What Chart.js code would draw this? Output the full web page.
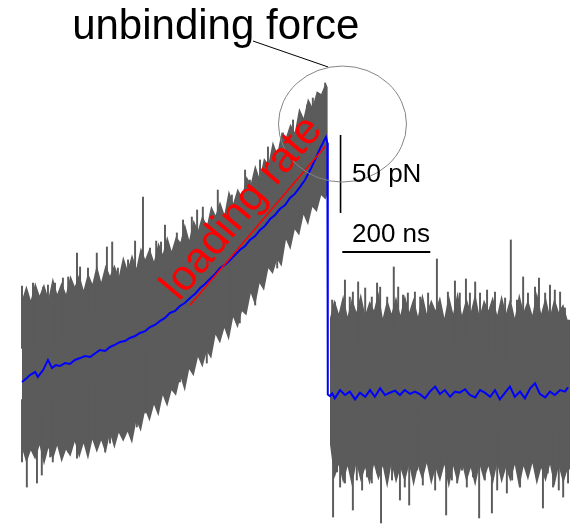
<!DOCTYPE html>
<html>
<head>
<meta charset="utf-8">
<script src="https://cdn.jsdelivr.net/npm/chart.js@4.4.1/dist/chart.umd.min.js"></script>
<style>
  html, body { margin: 0; padding: 0; background: #fff; }
  #wrap { width: 570px; height: 525px; }
</style>
</head>
<body>
<div id="wrap"><canvas id="trace" width="570" height="525"></canvas></div>
<script>
// force trace of one unbinding event, time in ns, force in pN
// raw signal: upper / lower envelope of the noisy trace, before and after rupture
const envTimeLeftNs = [0, 10, 20, 30, 40, 50, 60, 70, 80, 90, 100, 110, 120, 130, 140, 150, 160, 170, 180, 190,
  200, 210, 220, 230, 240, 250, 260, 270, 280, 290, 300, 310, 320, 330, 340, 350, 360, 370, 380, 390,
  400, 410, 420, 430, 440, 450, 460, 470, 480, 490, 500, 510, 520, 530, 540, 550, 560, 570, 580, 590,
  600, 610, 620, 630, 640, 650, 660, 670, 680, 690, 695];
const envTopLeftPn = [59.4, 68.9, 59.4, 71.0, 62.5, 70.0, 60.5, 74.0, 63.5, 71.0, 63.5, 75.4, 68.3, 76.2, 66.1, 77.0, 70.0, 82.1, 71.1, 82.2,
  75.2, 82.3, 74.5, 87.6, 78.8, 88.9, 80.2, 93.5, 85.7, 93.0, 84.3, 96.7, 89.1, 100.6, 91.0, 100.4, 96.6, 108.8, 98.0, 111.1,
  104.3, 114.2, 107.1, 120.1, 114.0, 122.9, 114.5, 130.0, 121.6, 131.1, 125.7, 138.9, 134.1, 146.3, 137.5, 150.7, 146.6, 161.4, 153.3, 167.1,
  164.0, 172.6, 167.2, 182.7, 176.3, 188.9, 183.2, 193.4, 191.7, 198.7, 196.0];
const envBottomLeftPn = [-35.3, -45.1, -36.9, -42.7, -33.5, -46.4, -35.2, -43.0, -33.8, -44.6, -36.4, -40.9, -31.3, -41.8, -32.3, -42.8, -30.0, -38.3, -30.5, -38.8,
  -26.0, -35.7, -25.4, -31.2, -24.9, -32.6, -17.8, -24.8, -11.1, -18.3, -7.5, -14.9, -1.4, -8.8, 1.7, -1.7, 10.6, 1.0, 15.3, 10.7,
  23.0, 16.3, 26.7, 22.0, 37.4, 31.7, 41.6, 33.6, 48.5, 41.5, 52.4, 49.6, 63.9, 56.1, 70.4, 65.6, 80.0, 76.3, 85.7, 81.0,
  98.4, 91.6, 104.8, 101.0, 114.3, 107.5, 119.3, 116.0, 126.8, 124.1, 128.0];

const envTimeRightNs = [700, 710, 720, 730, 740, 750, 760, 770, 780, 790, 800, 810, 820, 830, 840, 850, 860, 870, 880, 890,
  900, 910, 920, 930, 940, 950, 960, 970, 980, 990, 1000, 1010, 1020, 1030, 1040, 1050, 1060, 1070, 1080, 1090,
  1100, 1110, 1120, 1130, 1140, 1150, 1160, 1170, 1180, 1190, 1200, 1210, 1220, 1230, 1240, 1246];
const envTopRightPn = [48, 60, 51, 63, 49, 61, 52, 64, 50, 59, 53, 65, 48, 60, 51, 62, 50, 63, 52, 61,
  49, 64, 51, 60, 53, 62, 48, 63, 51, 65, 50, 61, 52, 64, 49, 60, 53, 62, 50, 63,
  51, 61, 48, 64, 52, 60, 50, 65, 51, 62, 49, 61, 52, 57, 47, 47];
const envBottomRightPn = [-33, -55, -46, -58, -47, -60, -45, -57, -48, -59, -46, -56, -47, -61, -45, -58, -48, -57, -46, -60,
  -47, -56, -45, -59, -48, -57, -46, -61, -47, -58, -45, -57, -48, -60, -46, -56, -47, -59, -45, -58,
  -48, -57, -46, -61, -47, -56, -45, -59, -48, -57, -46, -60, -47, -58, -49, -49];

// single long spikes sticking out of the envelope
const spikeUpTimeNs = [0, 25, 48, 59, 75, 93, 105, 125, 132, 150, 170, 193, 205, 218, 241, 257, 275, 291, 305, 316,
  325, 352, 366, 386, 398, 411, 445, 477, 507, 518, 541, 559, 570, 593, 616, 648, 661, 677, 689,
  705, 711, 734, 745, 752, 764, 780, 795, 807, 814, 830, 845, 855, 866, 877, 893, 905, 923, 943, 968,
  984, 995, 1009, 1018, 1030, 1041, 1057, 1075, 1098, 1111, 1125, 1139, 1150, 1166, 1175, 1189, 1200, 1211, 1223, 1234];
const spikeUpPn = [68.6, 70.5, 67.9, 69.2, 70.5, 73.7, 74.4, 89.7, 80.8, 80.1, 89.7, 93.6, 96.8, 80.1, 85.3, 97.4, 125.6, 92.9, 97.4, 96.8,
  107.7, 102.6, 110.9, 112.8, 117.3, 119.2, 130.1, 126.9, 142.9, 136.5, 149.4, 157.7, 153.8, 166.7, 175.0, 184.6, 189.1, 191.0, 198.7,
  59.6, 58.3, 72.4, 61.5, 64.7, 71.2, 67.3, 61.5, 70.5, 67.9, 61.5, 80.8, 67.9, 62.8, 64.1, 64.7, 61.5, 64.1, 85.9, 64.7,
  71.8, 64.1, 73.1, 64.1, 71.2, 64.1, 66.0, 64.7, 60.9, 98.1, 59.6, 74.4, 64.1, 67.9, 73.7, 64.1, 69.2, 66.0, 64.7, 54.5];

const spikeDownTimeNs = [0, 11, 18, 34, 45, 64, 70, 86, 105, 125, 136, 148, 170, 189, 200, 218, 230, 261, 280, 307,
  320, 359, 377, 420, 432, 473, 495, 530, 580, 614, 632, 661,
  707, 716, 723, 734, 752, 761, 773, 784, 795, 807, 816, 830, 841, 859, 870, 880, 898, 911, 927, 939,
  950, 964, 977, 989, 1000, 1011, 1025, 1039, 1052, 1068, 1080, 1091, 1102, 1114, 1132, 1148, 1173, 1184, 1195, 1207,
  1220, 1230, 1241];
const spikeDownPn = [-44.2, -60.3, -36.5, -57.7, -52.6, -41.0, -44.2, -35.3, -37.8, -41.7, -30.1, -33.3, -34.6, -37.8, -32.1, -23.7, -28.2, -21.8, -12.8, -7.7,
  1.9, 7.1, 19.2, 19.2, 34.0, 46.8, 44.9, 56.4, 80.1, 102.6, 110.9, 120.5,
  -79.5, -50.6, -60.3, -57.7, -75.0, -55.8, -62.2, -53.8, -57.7, -51.3, -83.3, -51.3, -55.8, -68.6, -60.3, -71.8, -49.4, -59.0, -49.4, -62.2,
  -53.8, -78.2, -55.8, -57.7, -49.4, -60.3, -53.8, -80.1, -55.8, -76.9, -62.2, -53.8, -64.1, -55.8, -60.3, -49.4, -49.4, -73.7, -51.3, -60.3,
  -62.2, -66.7, -57.7];

// smoothed signal (blue)
const smoothTimeNs = [0, 11, 18, 30, 36, 48, 59, 68, 77, 86, 98, 109, 120, 132, 143, 155, 161, 177, 189, 200,
  211, 223, 234, 245, 257, 268, 280, 291, 302, 314, 325, 336, 348, 359, 370, 382, 393, 405, 416, 427,
  439, 450, 461, 473, 484, 495, 507, 518, 530, 541, 552, 564, 575, 586, 598, 609, 620, 632, 643, 655,
  666, 677, 686, 691, 694, 695,
  700, 705, 711, 723, 734, 745, 757, 768, 780, 791, 802, 814, 825, 836, 848, 859, 870, 882, 893, 905,
  916, 927, 939, 950, 961, 973, 984, 995, 1007, 1018, 1030, 1041, 1052, 1064, 1075, 1086, 1098, 1109, 1120, 1132,
  1143, 1155, 1166, 1177, 1189, 1200, 1211, 1223, 1234, 1241];
const smoothForcePn = [7.1, 9.6, 11.5, 13.5, 10.3, 14.7, 21.2, 16.0, 17.9, 17.3, 19.2, 18.6, 21.2, 22.4, 23.7, 23.1, 24.4, 27.6, 26.9, 29.5,
  30.8, 32.7, 33.3, 35.3, 36.5, 38.5, 39.7, 42.3, 43.6, 46.2, 48.1, 51.3, 52.6, 55.8, 57.7, 60.9, 63.5, 67.3, 69.9, 73.1,
  76.3, 80.1, 82.1, 85.3, 88.5, 91.7, 94.2, 98.1, 100.6, 104.5, 107.1, 111.5, 114.1, 117.9, 120.5, 125.0, 127.6, 132.1, 136.5, 142.9,
  149.4, 156.4, 161.5, 164.1, 160.3, -1.0,
  -2.0, -0.2, -3.4, 1.9, -1.3, 0.9, -4.1, 0.2, -2.4, 1.9, -2.4, 3.0, -1.3, 0.2, 1.5, -1.3, 1.9, -0.6, 0.9, -0.9,
  -3.4, 0.9, 4.1, -0.6, 1.9, -2.4, 0.9, 0.2, 2.4, -1.3, -2.8, 1.9, 0.2, -2.4, 1.9, -4.1, 0.2, 4.1, -2.4, 0.9,
  -3.4, 3.0, 6.2, -0.6, -2.8, 0.9, -1.3, 1.9, 0.9, 3.6];

// linear fit of the loading ramp (red)
const fitTimeNs = [382, 690];
const fitForcePn = [56.4, 158.3];

// scale bars
const scaleBarForcePn = 50;
const scaleBarTimeNs = 200;

const X_MIN = -50, X_MAX = 1245.5;
const Y_MIN = -84.6, Y_MAX = 251.9;
const GRAY = '#5b5b5b';
const SPIKE_DEPTH = 40; // how far a spike bar reaches back into the band

const pts = (xs, ys) => xs.map((t, i) => ({ x: t, y: ys[i] }));

const traceNotes = {
  id: 'traceNotes',
  afterDatasetsDraw(chart) {
    const { ctx, scales: { x, y } } = chart;
    const px = t => x.getPixelForValue(t);
    const py = f => y.getPixelForValue(f);
    ctx.save();
    ctx.fillStyle = '#000';
    ctx.textBaseline = 'alphabetic';
    ctx.textAlign = 'left';

    ctx.font = '42px "Liberation Sans", Arial, sans-serif';
    ctx.fillText('unbinding force', px(114), py(227));

    // leader line and circle round the peak
    ctx.strokeStyle = '#000';
    ctx.lineWidth = 1;
    ctx.beginPath();
    ctx.moveTo(px(525), py(225.6));
    ctx.lineTo(px(695.5), py(209));
    ctx.stroke();

    ctx.strokeStyle = '#858585';
    ctx.beginPath();
    ctx.ellipse(px(728.4), py(172.4), 64, 58, 0, 0, Math.PI * 2);
    ctx.stroke();

    ctx.font = '26px "Liberation Sans", Arial, sans-serif';
    ctx.fillText(scaleBarForcePn + ' pN', px(750), py(135.3));
    ctx.fillText(scaleBarTimeNs + ' ns', px(750), py(96.8));

    ctx.save();
    ctx.translate(px(357), py(58.3));
    ctx.rotate(-50 * Math.PI / 180);
    ctx.fillStyle = '#ff0000';
    ctx.font = '43px "Liberation Sans", Arial, sans-serif';
    ctx.fillText('loading rate', 0, 0);
    ctx.restore();

    ctx.restore();
  }
};

const lineBase = { type: 'line', pointRadius: 0, tension: 0, borderWidth: 0, fill: false };
const barBase = { type: 'bar', backgroundColor: GRAY, borderWidth: 0, barThickness: 1.3, grouped: false, order: 6 };

new Chart(document.getElementById('trace'), {
  type: 'line',
  data: {
    datasets: [
      { ...lineBase, data: pts(envTimeLeftNs, envTopLeftPn), fill: '+1', backgroundColor: GRAY, order: 7 },
      { ...lineBase, data: pts(envTimeLeftNs, envBottomLeftPn), order: 7 },
      { ...lineBase, data: pts(envTimeRightNs, envTopRightPn), fill: '+1', backgroundColor: GRAY, order: 7 },
      { ...lineBase, data: pts(envTimeRightNs, envBottomRightPn), order: 7 },
      { ...barBase, data: spikeUpTimeNs.map((t, i) => ({ x: t, y: [spikeUpPn[i] - SPIKE_DEPTH, spikeUpPn[i]] })) },
      { ...barBase, data: spikeDownTimeNs.map((t, i) => ({ x: t, y: [spikeDownPn[i], spikeDownPn[i] + SPIKE_DEPTH] })) },
      { ...lineBase, data: pts(smoothTimeNs, smoothForcePn), borderColor: '#0000ff', borderWidth: 2, order: 2 },
      { ...lineBase, data: pts(fitTimeNs, fitForcePn), borderColor: '#ff0000', borderWidth: 1.5, order: 1 },
      { ...lineBase, data: pts([724, 724], [115.4, 115.4 + scaleBarForcePn]), borderColor: '#000', borderWidth: 1.6, order: 0 },
      { ...lineBase, data: pts([728, 728 + scaleBarTimeNs], [90.4, 90.4]), borderColor: '#000', borderWidth: 2, order: 0 }
    ]
  },
  options: {
    responsive: false,
    animation: false,
    devicePixelRatio: 1,
    layout: { padding: 0 },
    plugins: { legend: { display: false }, tooltip: { enabled: false }, title: { display: false } },
    scales: {
      x: { type: 'linear', min: X_MIN, max: X_MAX, offset: false, display: false },
      y: { type: 'linear', min: Y_MIN, max: Y_MAX, display: false }
    }
  },
  plugins: [traceNotes]
});
</script>
</body>
</html>
